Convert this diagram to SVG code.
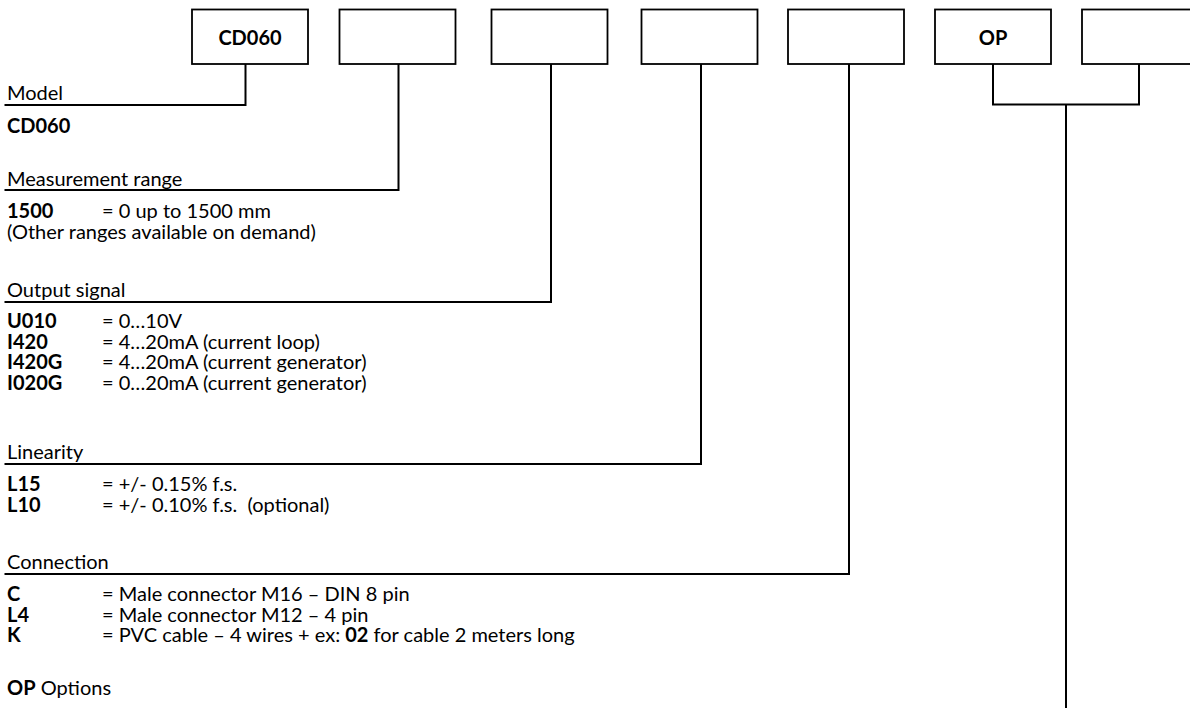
<svg xmlns="http://www.w3.org/2000/svg" width="1190" height="708" viewBox="0 0 1190 708">
<style>
.box{fill:#fff;stroke:#000;stroke-width:1.8}
.ln{fill:none;stroke:#000;stroke-width:2}
text{font-family:Lato,"Liberation Sans",sans-serif;font-size:20px;fill:#000}
.b{font-weight:bold}
.bt{font-weight:bold;text-anchor:middle}
</style>
<rect width="1190" height="708" fill="#fff"/>
<g id="connectors">
<polyline class="ln" points="245.5,64 245.5,105 4.5,105"/>
<polyline class="ln" points="398.5,64 398.5,190 4.5,190"/>
<polyline class="ln" points="551,64 551,302 4.5,302"/>
<polyline class="ln" points="701,64 701,464 4.5,464"/>
<polyline class="ln" points="849,64 849,574 4.5,574"/>
<polyline class="ln" points="993,64 993,104.5 1139,104.5 1139,64"/>
<line class="ln" x1="1066" y1="104.5" x2="1066" y2="708"/>
</g>
<g id="box-model"><rect class="box" x="192" y="9.5" width="116" height="54.5"/><text class="bt" x="250" y="45">CD060</text></g>
<g id="box-range"><rect class="box" x="339.5" y="9.5" width="116" height="54.5"/></g>
<g id="box-output"><rect class="box" x="491.5" y="9.5" width="116" height="54.5"/></g>
<g id="box-linearity"><rect class="box" x="641.5" y="9.5" width="116" height="54.5"/></g>
<g id="box-connection"><rect class="box" x="788" y="9.5" width="116" height="54.5"/></g>
<g id="box-op"><rect class="box" x="935" y="9.5" width="116" height="54.5"/><text class="bt" x="993" y="45">OP</text></g>
<g id="box-last"><rect class="box" x="1082" y="9.5" width="116" height="54.5"/></g>
<g id="legend">
<text x="7" y="100">Model</text>
<text class="b" x="7" y="133">CD060</text>
<text x="7" y="186">Measurement range</text>
<text class="b" x="7" y="218">1500</text><text x="102" y="218">= 0 up to 1500 mm</text>
<text x="7" y="239">(Other ranges available on demand)</text>
<text x="7" y="297">Output signal</text>
<text class="b" x="7" y="328">U010</text><text x="102" y="328">= 0…10V</text>
<text class="b" x="7" y="348.5">I420</text><text x="102" y="348.5">= 4…20mA (current loop)</text>
<text class="b" x="7" y="369">I420G</text><text x="102" y="369">= 4…20mA (current generator)</text>
<text class="b" x="7" y="389.5">I020G</text><text x="102" y="389.5">= 0…20mA (current generator)</text>
<text x="7" y="459">Linearity</text>
<text class="b" x="7" y="491">L15</text><text x="102" y="491">= +/- 0.15% f.s.</text>
<text class="b" x="7" y="511.5">L10</text><text x="102" y="511.5" xml:space="preserve">= +/- 0.10% f.s.  (optional)</text>
<text x="7" y="569">Connection</text>
<text class="b" x="7" y="601">C</text><text x="102" y="601">= Male connector M16 – DIN 8 pin</text>
<text class="b" x="7" y="621.5">L4</text><text x="102" y="621.5">= Male connector M12 – 4 pin</text>
<text class="b" x="7" y="642">K</text><text x="102" y="642">= PVC cable – 4 wires + ex: <tspan class="b">02</tspan> for cable 2 meters long</text>
<text x="7" y="695"><tspan class="b">OP</tspan> Options</text>
</g>
</svg>
